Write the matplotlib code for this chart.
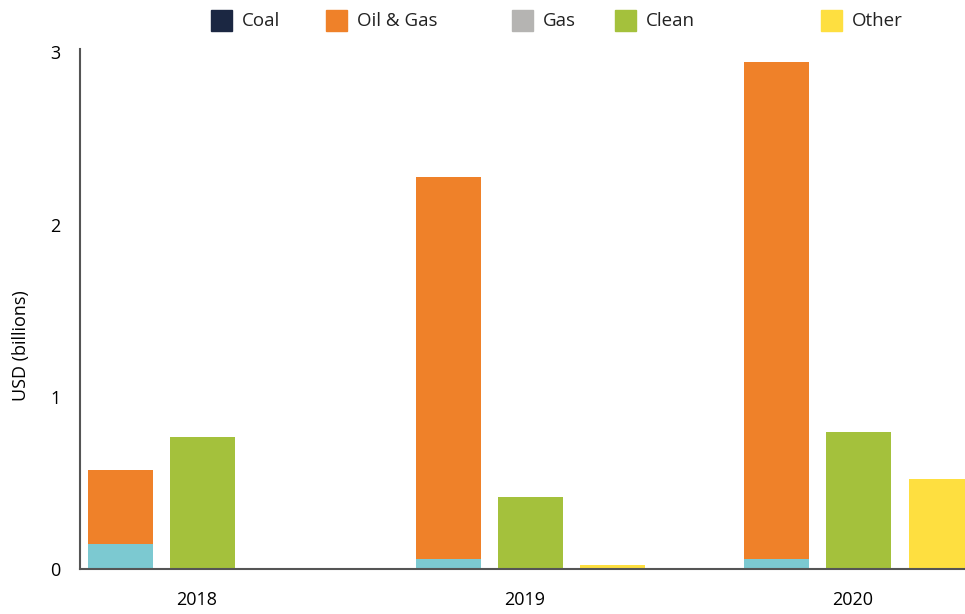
import matplotlib
matplotlib.use("Agg")
import matplotlib.pyplot as plt
from matplotlib.patches import Rectangle
import numpy as np

years = ["2018", "2019", "2020"]
teal_base = [0.145, 0.058, 0.058]          # unlabelled lower segment of Oil & Gas bar
oil_gas = [0.431, 2.221, 2.884]            # orange segment stacked on top
coal = [0.0, 0.0, 0.0]
gas = [0.0, 0.0, 0.0]
clean = [0.767, 0.419, 0.797]
other = [0.0, 0.023, 0.523]

legend_labels = ["Coal", "Oil & Gas", "Gas", "Clean", "Other"]
colors = {"Coal": "#1b2742", "Oil & Gas": "#ef8129", "Gas": "#b5b4b2",
          "Clean": "#a4c13c", "Other": "#fedf40", "teal": "#7cc9d1"}

plt.rcParams['font.family'] = ['Open Sans', 'DejaVu Sans']

fig = plt.figure(figsize=(9.65, 6.14), dpi=100)
ax = fig.add_axes([80/965, 45/614, 1 - 80/965, (569-49)/614])

x = np.arange(len(years))
w = 0.198
off_og, off_clean, off_other = -0.232, 0.018, 0.268

ax.bar(x + off_og, teal_base, w, color=colors["teal"])
ax.bar(x + off_og, oil_gas, w, bottom=teal_base, color=colors["Oil & Gas"])
ax.bar(x + off_clean, clean, w, color=colors["Clean"])
ax.bar(x + off_other, other, w, color=colors["Other"])

ax.set_xlim(-0.354, 2.341)
ax.set_ylim(0, 3.02)
ax.set_yticks([0, 1, 2, 3])
ax.set_yticklabels(["0", "1", "2", "3"], fontsize=13)
ax.set_xticks(x)
ax.set_xticklabels(years, fontsize=13)
ax.tick_params(axis='both', length=0)
ax.tick_params(axis='x', pad=16)
ax.tick_params(axis='y', pad=14)
for s in ["top", "right"]:
    ax.spines[s].set_visible(False)
for s in ["left", "bottom"]:
    ax.spines[s].set_color("#555555")
    ax.spines[s].set_linewidth(1.5)
ax.set_ylabel("USD (billions)", fontsize=13)
ax.yaxis.set_label_coords(-0.057, 0.429)

# legend (custom spacing like reference)
leg_x = [211, 326, 512, 615, 821]
for lab, px in zip(legend_labels, leg_x):
    fig.patches.append(Rectangle((px/965, 1 - 31/614), 21/965, 21/614,
                                 transform=fig.transFigure, color=colors[lab]))
    fig.text((px + 31)/965, 1 - 21/614, lab, fontsize=13.5, va='center', ha='left',
             color="#222222")

fig.savefig("out.png", dpi=100)
